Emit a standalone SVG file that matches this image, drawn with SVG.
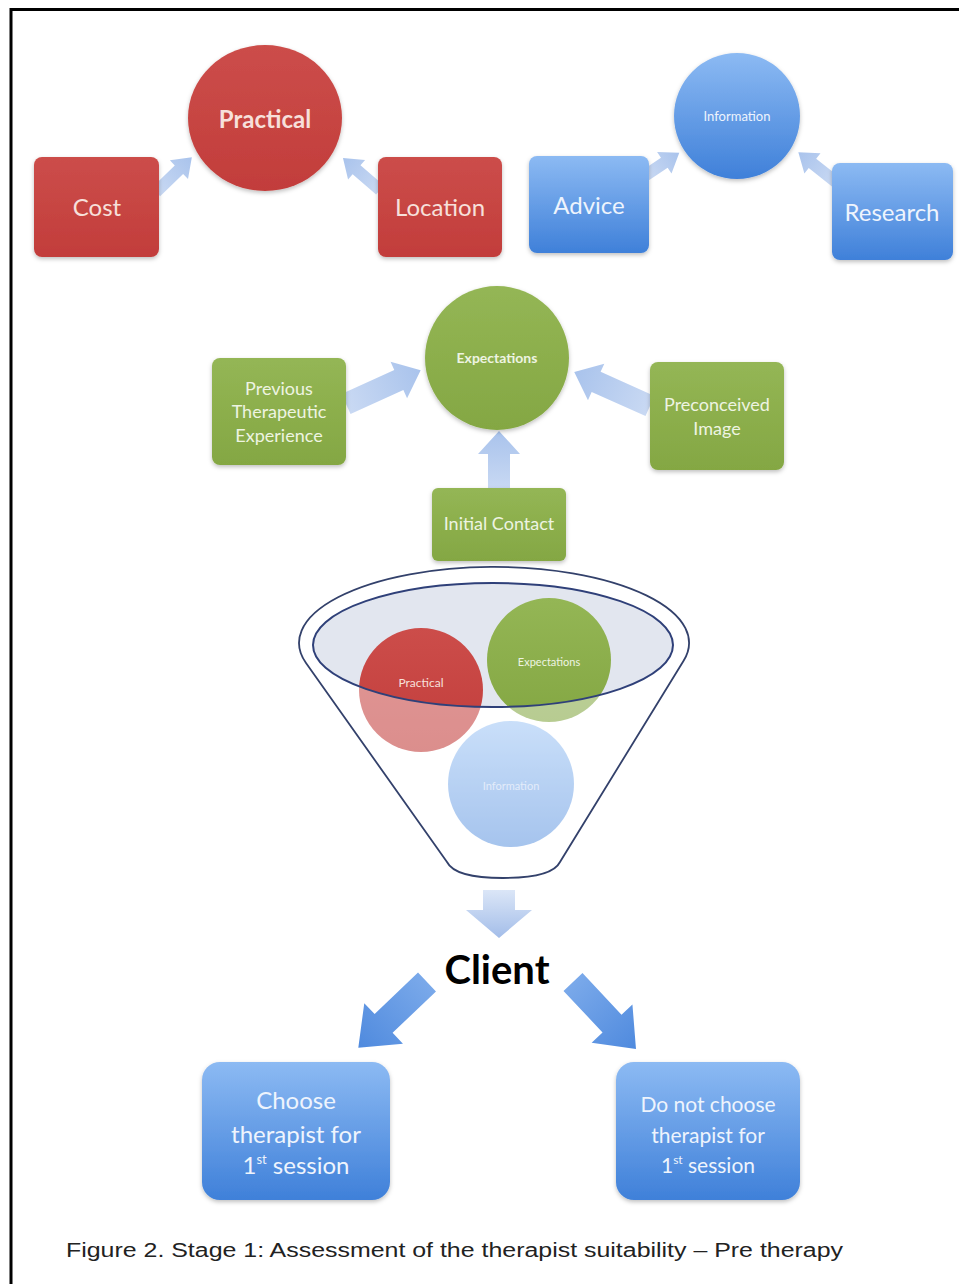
<svg xmlns="http://www.w3.org/2000/svg" width="959" height="1284" viewBox="0 0 959 1284">
  <defs>
    <linearGradient id="gRed" x1="0" y1="0" x2="0" y2="1">
      <stop offset="0" stop-color="#cc4d4a"/>
      <stop offset="1" stop-color="#c23d3b"/>
    </linearGradient>
    <linearGradient id="gBlue" x1="0" y1="0" x2="0" y2="1">
      <stop offset="0" stop-color="#8cbaf3"/>
      <stop offset="1" stop-color="#3f80d9"/>
    </linearGradient>
    <linearGradient id="gGreen" x1="0" y1="0" x2="0" y2="1">
      <stop offset="0" stop-color="#94b655"/>
      <stop offset="1" stop-color="#84a743"/>
    </linearGradient>
    <linearGradient id="gLight" x1="0" y1="0" x2="1" y2="0">
      <stop offset="0" stop-color="#c9d9f3"/>
      <stop offset="1" stop-color="#a9c3ec"/>
    </linearGradient>
    <linearGradient id="gDown" x1="0" y1="0" x2="1" y2="0">
      <stop offset="0" stop-color="#dbe6f7"/>
      <stop offset="1" stop-color="#a3bde9"/>
    </linearGradient>
    <linearGradient id="gDiag" x1="0" y1="0" x2="1" y2="0">
      <stop offset="0" stop-color="#7aa9ea"/>
      <stop offset="1" stop-color="#4f8ade"/>
    </linearGradient>
    <filter id="sh" x="-10%" y="-10%" width="120%" height="125%">
      <feDropShadow dx="0" dy="2" stdDeviation="2" flood-color="#000" flood-opacity="0.25"/>
    </filter>
    <style>
      .t { font-family: Lato, "Open Sans", "Liberation Sans", sans-serif; text-anchor: middle; }
      .wr { fill: #f7e0db; }
      .wb { fill: #eef4fd; }
      .wg { fill: #eef4e2; }
      .red { fill: url(#gRed); }
      .blue { fill: url(#gBlue); }
      .green { fill: url(#gGreen); }
      .la { fill: url(#gLight); }
    </style>
  </defs>

  <rect width="959" height="1284" fill="#ffffff"/>
  <!-- frame -->
  <line x1="10" y1="9.5" x2="959" y2="9.5" stroke="#000" stroke-width="3"/>
  <line x1="11" y1="8" x2="11" y2="1284" stroke="#000" stroke-width="3"/>

  <!-- connectors -->
  <g id="connectors">
    <polygon class="la" transform="translate(156,192) rotate(-44.2)" points="0,-6 32,-6 32,-13 50,0 32,13 32,6 0,6"/>
    <polygon class="la" transform="translate(380,190) rotate(-139.1)" points="0,-6 31,-6 31,-13 49,0 31,13 31,6 0,6"/>
    <polygon class="la" transform="translate(646,175) rotate(-33.7)" points="0,-6 22,-6 22,-13 40,0 22,13 22,6 0,6"/>
    <polygon class="la" transform="translate(836,182) rotate(-141.7)" points="0,-6 30,-6 30,-13 48,0 30,13 30,6 0,6"/>
    <polygon class="la" transform="translate(346,404) rotate(-24.4)" points="0,-11 58,-11 58,-20 82,0 58,20 58,11 0,11"/>
    <polygon class="la" transform="translate(650,406) rotate(-155.9)" points="0,-11 59,-11 59,-20 83,0 59,20 59,11 0,11"/>
    <polygon class="la" transform="translate(499,490) rotate(-90)" points="0,-11 36,-11 36,-21 59,0 36,21 36,11 0,11"/>
    <polygon fill="url(#gDown)" transform="translate(499,890) rotate(90)" points="0,-16 20,-16 20,-33 48,0 20,33 20,16 0,16"/>
    <polygon fill="url(#gDiag)" transform="translate(427,982) rotate(136.3)" points="0,-13 60,-13 60,-28 95,0 60,28 60,13 0,13"/>
    <polygon fill="url(#gDiag)" transform="translate(573,982) rotate(46.8)" points="0,-13 57,-13 57,-28 92,0 57,28 57,13 0,13"/>
  </g>

  <!-- Practical cluster -->
  <g id="practical">
    <ellipse class="red" cx="265" cy="118" rx="77" ry="73" filter="url(#sh)"/>
    <text class="t wr" x="265" y="128" font-size="24" font-weight="700">Practical</text>
  </g>
  <g id="cost">
    <rect class="red" x="34" y="157" width="125" height="100" rx="8" filter="url(#sh)"/>
    <text class="t wr" x="97" y="216" font-size="24">Cost</text>
  </g>
  <g id="location">
    <rect class="red" x="378" y="157" width="124" height="100" rx="8" filter="url(#sh)"/>
    <text class="t wr" x="440" y="216" font-size="24">Location</text>
  </g>

  <!-- Information cluster -->
  <g id="information">
    <circle class="blue" cx="737" cy="116" r="63" filter="url(#sh)"/>
    <text class="t wb" x="737" y="121" font-size="13">Information</text>
  </g>
  <g id="advice">
    <rect class="blue" x="529" y="156" width="120" height="97" rx="8" filter="url(#sh)"/>
    <text class="t wb" x="589" y="214" font-size="24">Advice</text>
  </g>
  <g id="research">
    <rect class="blue" x="832" y="163" width="121" height="97" rx="8" filter="url(#sh)"/>
    <text class="t wb" x="892" y="221" font-size="24">Research</text>
  </g>

  <!-- Expectations cluster -->
  <g id="expectations">
    <ellipse class="green" cx="497" cy="358" rx="72" ry="72" filter="url(#sh)"/>
    <text class="t wg" x="497" y="363" font-size="14" font-weight="700">Expectations</text>
  </g>
  <g id="previous">
    <rect class="green" x="212" y="358" width="134" height="107" rx="8" filter="url(#sh)"/>
    <text class="t wg" x="279" y="395" font-size="18">Previous</text>
    <text class="t wg" x="279" y="418" font-size="18">Therapeutic</text>
    <text class="t wg" x="279" y="442" font-size="18">Experience</text>
  </g>
  <g id="preconceived">
    <rect class="green" x="650" y="362" width="134" height="108" rx="8" filter="url(#sh)"/>
    <text class="t wg" x="717" y="411" font-size="18">Preconceived</text>
    <text class="t wg" x="717" y="435" font-size="18">Image</text>
  </g>
  <g id="initial-contact">
    <rect class="green" x="432" y="488" width="134" height="73" rx="6" filter="url(#sh)"/>
    <text class="t wg" x="499" y="530" font-size="18">Initial Contact</text>
  </g>

  <!-- Funnel -->
  <g id="funnel">
    <ellipse cx="493" cy="645" rx="180" ry="62" fill="#e2e6ef"/>
    <circle cx="511" cy="784" r="63" class="blue" opacity="0.8"/>
    <circle cx="421" cy="690" r="62" class="red"/>
    <circle cx="549" cy="660" r="62" class="green"/>
    <path d="M447,862 L306,663 A195,76 0 1 1 683.6,660.7 L560,862 Q552,878 503,878 Q455,878 447,862 Z M313,645 A180,62 0 1 0 673,645 A180,62 0 1 0 313,645 Z" fill="#ffffff" fill-opacity="0.42" fill-rule="evenodd"/>
    <path d="M447,862 L306,663 A195,76 0 1 1 683.6,660.7 L560,862 Q552,878 503,878 Q455,878 447,862 Z" fill="none" stroke="#33416b" stroke-width="1.8"/>
    <ellipse cx="493" cy="645" rx="180" ry="62" fill="none" stroke="#2f4079" stroke-width="2"/>
    <text class="t wr" x="421" y="687" font-size="12">Practical</text>
    <text class="t wg" x="549" y="666" font-size="11">Expectations</text>
    <text class="t" x="511" y="790" font-size="11" fill="#e3ecfa">Information</text>
  </g>

  <!-- Client -->
  <g id="client">
    <text class="t" x="497" y="984" font-size="40" font-weight="700" fill="#000">Client</text>
  </g>

  <g id="choose">
    <rect class="blue" x="202" y="1062" width="188" height="138" rx="18" filter="url(#sh)"/>
    <text class="t wb" x="296" y="1109" font-size="24">Choose</text>
    <text class="t wb" x="296" y="1143" font-size="24">therapist for</text>
    <text class="t wb" x="296" y="1174" font-size="24">1<tspan font-size="13" dy="-10">st</tspan><tspan dy="10"> session</tspan></text>
  </g>
  <g id="do-not-choose">
    <rect class="blue" x="616" y="1062" width="184" height="138" rx="18" filter="url(#sh)"/>
    <text class="t wb" x="708" y="1112" font-size="21">Do not choose</text>
    <text class="t wb" x="708" y="1143" font-size="21">therapist for</text>
    <text class="t wb" x="708" y="1173" font-size="21">1<tspan font-size="12" dy="-9">st</tspan><tspan dy="9"> session</tspan></text>
  </g>

  <text x="66" y="1257" font-family="'Liberation Sans', Arial, sans-serif" font-size="20" fill="#222" textLength="777" lengthAdjust="spacingAndGlyphs">Figure 2. Stage 1: Assessment of the therapist suitability – Pre therapy</text>
</svg>
